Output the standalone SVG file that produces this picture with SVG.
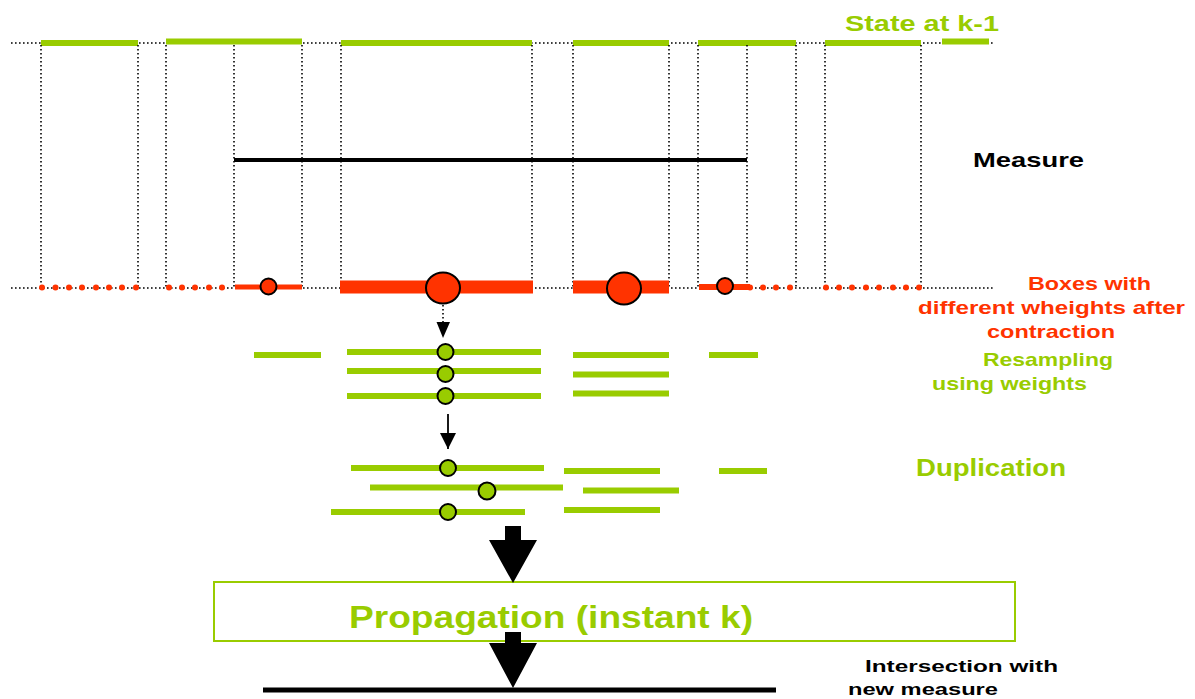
<svg xmlns="http://www.w3.org/2000/svg" width="1195" height="699" viewBox="0 0 1195 699">
  <style>
    .dot { stroke: #000; stroke-width: 1.6; stroke-dasharray: 1.6 2.4; fill: none; }
    .gbar { stroke: #99CC00; stroke-width: 6; }
    .rbar { stroke: #FF3300; }
    .rdot { fill: #FF3300; }
    .rc { fill: #FF3300; stroke: #000; stroke-width: 2; }
    .gc { fill: #99CC00; stroke: #000; stroke-width: 2; }
    .lbl { font-family: "Liberation Sans", Arial, sans-serif; font-weight: bold; }
    .green { fill: #99CC00; }
    .red { fill: #FF3300; }
    .black { fill: #000; }
  </style>
  <defs>
    <marker id="tri" viewBox="0 0 10 10" refX="10" refY="5" markerWidth="16" markerHeight="16" markerUnits="userSpaceOnUse" orient="auto">
      <path d="M0,0 L10,5 L0,10 z" fill="#000"/>
    </marker>
  </defs>

  <!-- state at k-1 -->
  <g id="state-prev">
    <line class="dot" x1="11" y1="43" x2="995" y2="43"/>
    <line class="gbar" x1="41" y1="43" x2="138" y2="43"/>
    <line class="gbar" x1="166" y1="41.5" x2="302" y2="41.5"/>
    <line class="gbar" x1="341" y1="43" x2="532" y2="43"/>
    <line class="gbar" x1="573" y1="43" x2="669" y2="43"/>
    <line class="gbar" x1="698" y1="43" x2="796" y2="43"/>
    <line class="gbar" x1="825" y1="43" x2="921" y2="43"/>
    <line class="gbar" x1="942" y1="41.5" x2="989" y2="41.5"/>
    <text class="lbl green" x="845" y="31" font-size="22" textLength="154" lengthAdjust="spacingAndGlyphs">State at k-1</text>
  </g>

  <!-- vertical projections -->
  <g id="projections">
    <line class="dot" x1="41" y1="45" x2="41" y2="288"/>
    <line class="dot" x1="138" y1="45" x2="138" y2="288"/>
    <line class="dot" x1="166" y1="45" x2="166" y2="288"/>
    <line class="dot" x1="234" y1="45" x2="234" y2="288"/>
    <line class="dot" x1="302" y1="45" x2="302" y2="288"/>
    <line class="dot" x1="341" y1="45" x2="341" y2="288"/>
    <line class="dot" x1="532" y1="45" x2="532" y2="288"/>
    <line class="dot" x1="573" y1="45" x2="573" y2="288"/>
    <line class="dot" x1="669" y1="45" x2="669" y2="288"/>
    <line class="dot" x1="698" y1="45" x2="698" y2="288"/>
    <line class="dot" x1="747" y1="45" x2="747" y2="288"/>
    <line class="dot" x1="796" y1="45" x2="796" y2="288"/>
    <line class="dot" x1="825" y1="45" x2="825" y2="288"/>
    <line class="dot" x1="921" y1="45" x2="921" y2="288"/>
  </g>

  <!-- measure -->
  <g id="measure">
    <line x1="234" y1="160" x2="747" y2="160" stroke="#000" stroke-width="4"/>
    <text class="lbl black" x="973" y="167" font-size="21" textLength="111" lengthAdjust="spacingAndGlyphs">Measure</text>
  </g>

  <!-- contracted boxes with weights -->
  <g id="contraction">
    <line class="dot" x1="11" y1="288" x2="995" y2="288"/>
    <g class="rdot">
      <circle cx="42" cy="287.5" r="3"/><circle cx="55.5" cy="287.5" r="3"/><circle cx="69" cy="287.5" r="3"/><circle cx="82" cy="287.5" r="3"/>
      <circle cx="96" cy="287.5" r="3"/><circle cx="109" cy="287.5" r="3"/><circle cx="122" cy="287.5" r="3"/><circle cx="136" cy="287.5" r="3"/>
      <circle cx="169" cy="287.5" r="3"/><circle cx="182" cy="287.5" r="3"/><circle cx="195" cy="287.5" r="3"/><circle cx="209" cy="287.5" r="3"/>
      <circle cx="222" cy="287.5" r="3"/>
      <circle cx="750" cy="287.5" r="3"/><circle cx="763" cy="287.5" r="3"/><circle cx="776" cy="287.5" r="3"/><circle cx="790" cy="287.5" r="3"/>
      <circle cx="826" cy="287.5" r="3"/><circle cx="839" cy="287.5" r="3"/><circle cx="852" cy="287.5" r="3"/><circle cx="866" cy="287.5" r="3"/>
      <circle cx="879" cy="287.5" r="3"/><circle cx="893" cy="287.5" r="3"/><circle cx="906" cy="287.5" r="3"/><circle cx="919" cy="287.5" r="3"/>
    </g>
    <line class="rbar" x1="235" y1="287" x2="302" y2="287" stroke-width="5"/>
    <line class="rbar" x1="340" y1="287" x2="533" y2="287" stroke-width="13"/>
    <line class="rbar" x1="573" y1="287" x2="669" y2="287" stroke-width="13"/>
    <line class="rbar" x1="699" y1="287" x2="750" y2="287" stroke-width="6"/>
    <circle class="rc" cx="268.5" cy="286.5" r="8"/>
    <ellipse class="rc" cx="443" cy="288" rx="17" ry="15.5"/>
    <ellipse class="rc" cx="624" cy="288.5" rx="17" ry="16"/>
    <circle class="rc" cx="725" cy="286" r="8"/>
    <text class="lbl red" font-size="19">
      <tspan x="1028" y="290" textLength="123" lengthAdjust="spacingAndGlyphs">Boxes with</tspan>
      <tspan x="918" y="314" textLength="267" lengthAdjust="spacingAndGlyphs">different wheights after</tspan>
      <tspan x="987" y="338" textLength="128" lengthAdjust="spacingAndGlyphs">contraction</tspan>
    </text>
  </g>

  <!-- resampling -->
  <g id="resampling">
    <line class="gbar" x1="254" y1="355" x2="321" y2="355"/>
    <line class="gbar" x1="347" y1="352" x2="541" y2="352"/>
    <line class="gbar" x1="347" y1="371" x2="541" y2="371"/>
    <line class="gbar" x1="347" y1="396" x2="541" y2="396"/>
    <line class="gbar" x1="573" y1="355" x2="669" y2="355"/>
    <line class="gbar" x1="573" y1="374.5" x2="669" y2="374.5"/>
    <line class="gbar" x1="573" y1="393.5" x2="669" y2="393.5"/>
    <line class="gbar" x1="709" y1="355" x2="758" y2="355"/>
    <circle class="gc" cx="445.5" cy="352" r="8"/>
    <circle class="gc" cx="445.5" cy="374" r="8"/>
    <circle class="gc" cx="445.5" cy="396" r="8"/>
    <text class="lbl green" font-size="19">
      <tspan x="983" y="366" textLength="130" lengthAdjust="spacingAndGlyphs">Resampling</tspan>
      <tspan x="932" y="390" textLength="155" lengthAdjust="spacingAndGlyphs">using weights</tspan>
    </text>
  </g>

  <!-- duplication -->
  <g id="duplication">
    <line class="gbar" x1="351" y1="468" x2="544" y2="468"/>
    <line class="gbar" x1="370" y1="487.5" x2="563" y2="487.5"/>
    <line class="gbar" x1="331" y1="512" x2="525" y2="512"/>
    <line class="gbar" x1="564" y1="471" x2="660" y2="471"/>
    <line class="gbar" x1="583" y1="490.5" x2="679" y2="490.5"/>
    <line class="gbar" x1="564" y1="510" x2="660" y2="510"/>
    <line class="gbar" x1="719" y1="471" x2="767" y2="471"/>
    <circle class="gc" cx="448" cy="468" r="8"/>
    <circle class="gc" cx="487" cy="491" r="8.5"/>
    <circle class="gc" cx="448" cy="512" r="8"/>
    <text class="lbl green" x="916" y="476" font-size="23" textLength="150" lengthAdjust="spacingAndGlyphs">Duplication</text>
  </g>

  <!-- propagation box -->
  <g id="propagation">
    <rect x="214" y="582" width="801" height="59" fill="#fff" stroke="#99CC00" stroke-width="2"/>
    <text class="lbl green" x="349" y="628" font-size="31" textLength="404" lengthAdjust="spacingAndGlyphs">Propagation (instant k)</text>
  </g>

  <!-- intersection with new measure -->
  <g id="intersection">
    <line x1="263" y1="690" x2="776" y2="690" stroke="#000" stroke-width="5"/>
    <text class="lbl black" font-size="17">
      <tspan x="865" y="672" textLength="193" lengthAdjust="spacingAndGlyphs">Intersection with</tspan>
      <tspan x="848" y="695" textLength="150" lengthAdjust="spacingAndGlyphs">new measure</tspan>
    </text>
  </g>

  <!-- connectors -->
  <g id="connectors">
    <line class="dot" x1="443" y1="305" x2="443" y2="323"/>
    <path d="M436.5,322 L450,322 L443,338 z" fill="#000"/>
    <line x1="448" y1="414" x2="448" y2="449" stroke="#000" stroke-width="1.8" marker-end="url(#tri)"/>
    <path d="M505,526 L521,526 L521,540 L537,540 L513,583 L489,540 L505,540 z" fill="#000"/>
    <path d="M505,632 L521,632 L521,643 L537,643 L513,688 L489,643 L505,643 z" fill="#000"/>
  </g>
</svg>
